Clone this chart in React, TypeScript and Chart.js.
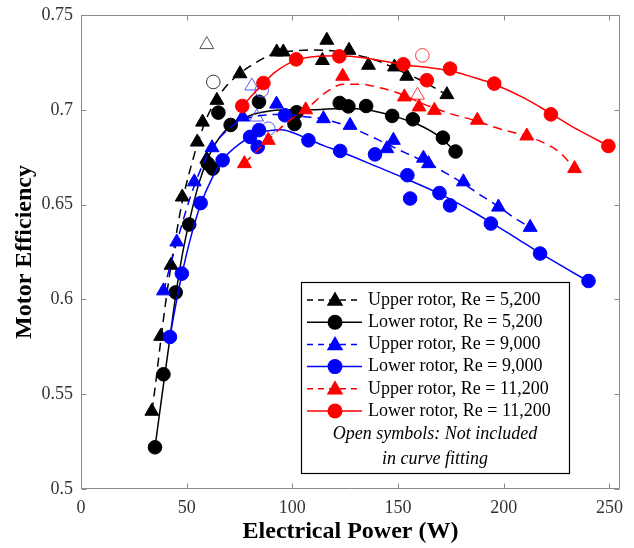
import React, { useEffect, useRef } from 'react';
import { Chart, registerables } from 'chart.js';

Chart.register(...registerables);

type Pt = [number, number];

const xTickValues = [0, 50, 100, 150, 200, 250];
const yTickValues = [0.5, 0.55, 0.6, 0.65, 0.7, 0.75];
const xMin = 0;
const xMax = 255;
const yMin = 0.5;
const yMax = 0.75;

const xTitle = 'Electrical Power (W)';
const yTitle = 'Motor Efficiency';
const legendLabels = [
  'Upper rotor, Re = 5,200',
  'Lower rotor, Re = 5,200',
  'Upper rotor, Re = 9,000',
  'Lower rotor, Re = 9,000',
  'Upper rotor, Re = 11,200',
  'Lower rotor, Re = 11,200',
];
const noteLines = ['Open symbols: Not included', 'in curve fitting'];

// Upper rotor, Re = 5,200
const upper5200Points: Pt[] = [
  [33.5, 0.541], [37.7, 0.5805], [42.6, 0.618], [47.9, 0.654], [55, 0.683], [57.5, 0.6935], [59.5, 0.674],
  [64.3, 0.705], [75.2, 0.719], [92.6, 0.7305], [95.7, 0.7305], [114.2, 0.726], [116.3, 0.7367],
  [126.8, 0.7314], [136, 0.7235], [148.3, 0.7226], [154.1, 0.7177], [173.1, 0.708],
];
const upper5200Open: Pt[] = [[59.5, 0.7344]];
const upper5200Fit: Pt[] = [
  [33.5, 0.541], [35, 0.553], [37.7, 0.578], [40, 0.598], [42.6, 0.618], [45, 0.634], [48, 0.652], [52, 0.67],
  [56, 0.685], [60, 0.697], [65, 0.707], [70, 0.714], [75, 0.719], [80, 0.723], [90, 0.729], [100, 0.731],
  [110, 0.7315], [120, 0.731], [130, 0.729], [140, 0.726], [150, 0.721], [160, 0.716], [173, 0.708],
];

// Lower rotor, Re = 5,200
const lower5200Points: Pt[] = [
  [35, 0.522], [39, 0.5605], [44.8, 0.6037], [51.2, 0.6395], [60, 0.6716], [62.3, 0.669], [65, 0.6985],
  [70.8, 0.692], [84.2, 0.7042], [102, 0.6987], [101, 0.6925], [122.4, 0.7036], [126.5, 0.7018],
  [134.9, 0.702], [147.2, 0.6968], [157, 0.695], [171.2, 0.6853], [177.2, 0.678],
];
const lower5200Open: Pt[] = [[62.6, 0.7147]];
const lower5200Fit: Pt[] = [
  [35, 0.522], [38.4, 0.55], [41.5, 0.575], [44.8, 0.602], [48, 0.624], [51, 0.64], [56, 0.662], [62, 0.679],
  [70, 0.691], [80, 0.697], [90, 0.6995], [100, 0.7], [110, 0.7], [120, 0.7005], [130, 0.7005], [140, 0.699],
  [150, 0.696], [160, 0.692], [170, 0.6855], [177, 0.678],
];

// Upper rotor, Re = 9,000
const upper9000Points: Pt[] = [
  [39, 0.6045], [45.3, 0.6303], [53.6, 0.662], [62, 0.68], [76.5, 0.6962], [92.5, 0.703], [114.7, 0.6953],
  [127.3, 0.6918], [144.7, 0.6795], [147.8, 0.6839], [162, 0.6745], [164.4, 0.6716], [180.9, 0.662],
  [197.5, 0.6487], [212.5, 0.638],
];
const upper9000Open: Pt[] = [[80.8, 0.7126], [83.1, 0.6962]];
const upper9000Fit: Pt[] = [
  [39, 0.604], [42, 0.617], [45.3, 0.63], [50, 0.648], [53.6, 0.66], [58, 0.672], [62, 0.68], [68, 0.688],
  [75, 0.694], [85, 0.697], [95, 0.6975], [105, 0.6965], [115, 0.695], [127, 0.691], [140, 0.6845],
  [154, 0.677], [164, 0.672], [172, 0.667], [181, 0.661], [189, 0.655], [197.5, 0.649], [205, 0.643],
  [212.5, 0.638],
];

// Lower rotor, Re = 9,000
const lower9000Points: Pt[] = [
  [42.1, 0.5802], [47.7, 0.6136], [56.6, 0.6508], [67, 0.6734], [80, 0.6857], [84.2, 0.6893], [83.6, 0.6804],
  [96.5, 0.6971], [107.6, 0.6839], [122.6, 0.6783], [139.1, 0.6765], [154.4, 0.6655], [155.7, 0.6532],
  [169.6, 0.6561], [174.6, 0.6496], [193.9, 0.64], [217.2, 0.6242], [240.1, 0.6097],
];
const lower9000Open: Pt[] = [[85.5, 0.7103], [88.6, 0.69]];
const lower9000Fit: Pt[] = [
  [42, 0.58], [45, 0.598], [47.7, 0.613], [52, 0.633], [56.6, 0.65], [62, 0.664], [67, 0.6735], [75, 0.682],
  [85, 0.688], [95, 0.6895], [100, 0.688], [107.6, 0.6845], [115, 0.681], [122.6, 0.678], [140, 0.67],
  [155, 0.663], [170, 0.6555], [185, 0.6465], [194, 0.6405], [205, 0.633], [217, 0.6245], [230, 0.616],
  [240, 0.6095],
];

// Upper rotor, Re = 11,200
const upper11200Points: Pt[] = [
  [77.3, 0.6716], [88.6, 0.6839], [106.3, 0.7], [123.8, 0.7177], [153, 0.7068], [159.9, 0.7015],
  [167.2, 0.6997], [187.5, 0.6945], [210.9, 0.6862], [233.5, 0.669],
];
const upper11200Open: Pt[] = [[159.2, 0.7077]];
const upper11200Fit: Pt[] = [
  [77.3, 0.6716], [82, 0.677], [88.6, 0.684], [95, 0.691], [100, 0.6955], [106.8, 0.7005], [115, 0.7085],
  [124, 0.7135], [132, 0.7135], [140, 0.712], [151, 0.7085], [160, 0.704], [174.6, 0.698], [186, 0.6945],
  [198, 0.69], [211, 0.686], [220, 0.682], [227, 0.677], [233.5, 0.669],
];

// Lower rotor, Re = 11,200
const lower11200Points: Pt[] = [
  [76.3, 0.702], [86.3, 0.7141], [101.8, 0.7266], [122.2, 0.7282], [152.5, 0.724], [163.6, 0.7156],
  [174.6, 0.7217], [195.5, 0.7138], [222.3, 0.6976], [249.5, 0.6809],
];
const lower11200Open: Pt[] = [[161.5, 0.7287]];
const lower11200Fit: Pt[] = [
  [76.3, 0.702], [80, 0.7065], [86.3, 0.714], [92, 0.72], [101.8, 0.7262], [110, 0.728], [122, 0.7285],
  [135, 0.7272], [152.5, 0.7238], [165, 0.7222], [175, 0.7205], [186, 0.717], [195.5, 0.7135], [210, 0.706],
  [222.3, 0.698], [235, 0.6895], [249.5, 0.681],
];

const FONT = '"Liberation Serif", "Times New Roman", serif';

type Series = {
  label: string;
  color: string;
  openColor: string;
  dashed: boolean;
  marker: 'triangle' | 'circle';
  pts: Pt[];
  open: Pt[];
  fit: Pt[];
};

const series: Series[] = [
  { label: legendLabels[0], color: '#000000', openColor: '#555555', dashed: true, marker: 'triangle', pts: upper5200Points, open: upper5200Open, fit: upper5200Fit },
  { label: legendLabels[1], color: '#000000', openColor: '#333333', dashed: false, marker: 'circle', pts: lower5200Points, open: lower5200Open, fit: lower5200Fit },
  { label: legendLabels[2], color: '#0000ff', openColor: '#5a5aff', dashed: true, marker: 'triangle', pts: upper9000Points, open: upper9000Open, fit: upper9000Fit },
  { label: legendLabels[3], color: '#0000ff', openColor: '#5a5aff', dashed: false, marker: 'circle', pts: lower9000Points, open: lower9000Open, fit: lower9000Fit },
  { label: legendLabels[4], color: '#ff0000', openColor: '#ff3a3a', dashed: true, marker: 'triangle', pts: upper11200Points, open: upper11200Open, fit: upper11200Fit },
  { label: legendLabels[5], color: '#ff0000', openColor: '#ff3a3a', dashed: false, marker: 'circle', pts: lower11200Points, open: lower11200Open, fit: lower11200Fit },
];

const DASH = [9, 6];
const TRI_R = 8;
const CIR_R = 6.8;

function toXY(p: Pt[]) {
  return p.map(([x, y]) => ({ x, y }));
}

function drawMarker(ctx: CanvasRenderingContext2D, kind: string, x: number, y: number, r: number, color: string) {
  ctx.beginPath();
  if (kind === 'circle') {
    ctx.arc(x, y, r, 0, Math.PI * 2);
  } else {
    const h = r * Math.sin(Math.PI / 3);
    ctx.moveTo(x, y - r);
    ctx.lineTo(x + h, y + r / 2);
    ctx.lineTo(x - h, y + r / 2);
    ctx.closePath();
  }
  ctx.fillStyle = color;
  ctx.fill();
}

const decorPlugin = {
  id: 'decor',
  afterDraw(chart: any) {
    const { ctx, chartArea: a, scales } = chart;
    const xs = scales.x;
    const ys = scales.y;
    ctx.save();
    // axes box
    const L = Math.round(a.left) + 0.5;
    const R = Math.round(a.right) - 0.5;
    const T = Math.round(a.top) + 0.5;
    const B = Math.round(a.bottom) - 0.5;
    ctx.strokeStyle = '#8a8a8a';
    ctx.lineWidth = 1;
    ctx.setLineDash([]);
    ctx.beginPath();
    ctx.moveTo(L, T);
    ctx.lineTo(R, T);
    ctx.lineTo(R, B);
    ctx.lineTo(L, B);
    ctx.closePath();
    const tl = 5;
    xTickValues.forEach((v) => {
      const px = Math.round(xs.getPixelForValue(v)) + 0.5;
      ctx.moveTo(px, B);
      ctx.lineTo(px, B - tl);
      ctx.moveTo(px, T);
      ctx.lineTo(px, T + tl);
    });
    yTickValues.forEach((v) => {
      const py = Math.round(ys.getPixelForValue(v)) + 0.5;
      ctx.moveTo(L, py);
      ctx.lineTo(L + tl, py);
      ctx.moveTo(R, py);
      ctx.lineTo(R - tl, py);
    });
    ctx.stroke();

    // legend
    const lx = Math.round(a.left) + 220;
    const ly = Math.round(a.top) + 267;
    const lw = 268;
    const lh = 191;
    ctx.fillStyle = '#ffffff';
    ctx.fillRect(lx, ly, lw, lh);
    ctx.strokeStyle = '#000000';
    ctx.lineWidth = 1.2;
    ctx.strokeRect(lx + 0.5, ly + 0.5, lw, lh);

    ctx.font = `18px ${FONT}`;
    ctx.textBaseline = 'middle';
    series.forEach((s, i) => {
      const cy = ly + 18 + i * 22.2;
      ctx.strokeStyle = s.color;
      ctx.lineWidth = 1.5;
      ctx.setLineDash(s.dashed ? [6, 5] : []);
      ctx.beginPath();
      ctx.moveTo(lx + 6, cy);
      ctx.lineTo(lx + 61, cy);
      ctx.stroke();
      ctx.setLineDash([]);
      drawMarker(ctx, s.marker, lx + 34, s.marker === 'triangle' ? cy + 1 : cy, s.marker === 'triangle' ? 9.5 : 7.5, s.color);
      ctx.fillStyle = '#000000';
      ctx.textAlign = 'left';
      ctx.fillText(s.label, lx + 67, cy);
    });
    ctx.font = `italic 18px ${FONT}`;
    ctx.textAlign = 'center';
    ctx.fillStyle = '#000000';
    ctx.fillText(noteLines[0], lx + lw / 2, ly + 152);
    ctx.fillText(noteLines[1], lx + lw / 2, ly + 177);
    ctx.restore();
  },
};

export default function App() {
  const ref = useRef<HTMLCanvasElement | null>(null);

  useEffect(() => {
    document.body.style.margin = '0';
    document.body.style.overflow = 'hidden';
    const canvas = ref.current;
    if (!canvas) return;

    const datasets: any[] = [];
    series.forEach((s, i) => {
      const base = (6 - i) * 10;
      datasets.push({
        type: 'line',
        label: s.label + ' fit',
        data: toXY(s.fit),
        borderColor: s.color,
        borderWidth: 1.5,
        borderDash: s.dashed ? DASH : [],
        pointRadius: 0,
        fill: false,
        cubicInterpolationMode: 'monotone',
        order: base,
      });
      datasets.push({
        type: 'scatter',
        label: s.label,
        data: toXY(s.pts),
        pointStyle: s.marker,
        pointRadius: s.marker === 'triangle' ? TRI_R : CIR_R,
        backgroundColor: s.color,
        borderColor: s.color,
        borderWidth: 1,
        showLine: false,
        order: base + 1,
      });
      datasets.push({
        type: 'scatter',
        label: s.label + ' open',
        data: toXY(s.open),
        pointStyle: s.marker,
        pointRadius: s.marker === 'triangle' ? TRI_R : CIR_R,
        backgroundColor: 'rgba(255,255,255,0)',
        borderColor: s.openColor,
        borderWidth: 1,
        showLine: false,
        order: base + 2,
      });
    });

    const chart = new Chart(canvas, {
      type: 'scatter',
      data: { datasets },
      options: {
        responsive: false,
        animation: false,
        events: [],
        layout: { padding: { top: 15, right: 14, left: 0, bottom: 0 } },
        plugins: { legend: { display: false }, tooltip: { enabled: false } },
        scales: {
          x: {
            type: 'linear',
            min: xMin,
            max: xMax,
            afterBuildTicks: (s: any) => {
              s.ticks = xTickValues.map((v) => ({ value: v }));
            },
            ticks: {
              autoSkip: false,
              maxRotation: 0,
              padding: 8,
              color: '#333333',
              font: { family: FONT, size: 18 },
              callback: (v: any) => String(v),
            },
            grid: { display: false, drawTicks: false },
            border: { display: false },
            title: {
              display: true,
              text: xTitle,
              color: '#000000',
              font: { family: FONT, size: 24, weight: 'bold' },
              padding: { top: 0, bottom: 1.6 },
            },
            afterFit: (s: any) => {
              s.height = 59;
              s.paddingLeft = 0;
              s.paddingRight = 0;
              s.paddingTop = 0;
              s.paddingBottom = 0;
            },
          },
          y: {
            type: 'linear',
            min: yMin,
            max: yMax,
            afterBuildTicks: (s: any) => {
              s.ticks = yTickValues.map((v) => ({ value: v }));
            },
            ticks: {
              autoSkip: false,
              padding: 8,
              color: '#333333',
              font: { family: FONT, size: 18 },
              callback: (v: any) => String(Math.round(Number(v) * 100) / 100),
            },
            grid: { display: false, drawTicks: false },
            border: { display: false },
            title: {
              display: true,
              text: yTitle,
              color: '#000000',
              font: { family: FONT, size: 24, weight: 'bold' },
              padding: { top: 10, bottom: 0 },
            },
            afterFit: (s: any) => {
              s.width = 81;
              s.paddingLeft = 0;
              s.paddingRight = 0;
              s.paddingTop = 0;
              s.paddingBottom = 0;
            },
          },
        },
      } as any,
      plugins: [decorPlugin],
    });

    return () => {
      chart.destroy();
    };
  }, []);

  return (
    <div style={{ width: 634, height: 548 }}>
      <canvas ref={ref} width={634} height={548} style={{ display: 'block' }} />
    </div>
  );
}
